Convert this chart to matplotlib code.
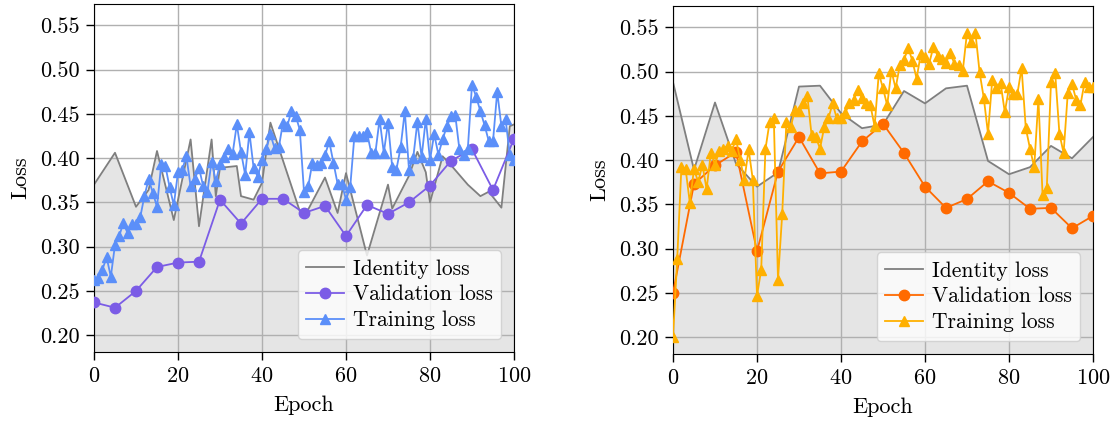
import numpy as np
import matplotlib
matplotlib.use("Agg")
import matplotlib.pyplot as plt

plt.rcParams['font.family'] = ['cmr10', 'DejaVu Serif']
plt.rcParams['mathtext.fontset'] = 'cm'
plt.rcParams['axes.formatter.use_mathtext'] = True
plt.rcParams['font.size'] = 16

# ---- left panel ----
left_id_epoch = [0, 5, 10, 13, 15, 19, 23, 25, 28, 29, 30, 34, 35, 38, 40, 42, 49, 51,
                 55, 58, 60, 65, 70, 71, 75, 77, 79, 80, 83, 85, 89, 92, 94, 97, 99, 100]
left_id_loss = [0.370, 0.406, 0.345, 0.364, 0.408, 0.330, 0.421, 0.323, 0.421, 0.357,
                0.389, 0.391, 0.357, 0.353, 0.372, 0.440, 0.340, 0.342, 0.378, 0.338,
                0.383, 0.290, 0.370, 0.343, 0.380, 0.407, 0.384, 0.350, 0.402, 0.392,
                0.370, 0.357, 0.362, 0.344, 0.436, 0.438]

val_epoch = [0, 5, 10, 15, 20, 25, 30, 35, 40, 45, 50, 55, 60, 65, 70, 75, 80, 85, 90, 95, 100]
left_val = [0.237, 0.231, 0.250, 0.277, 0.282, 0.283, 0.353, 0.326, 0.354, 0.354, 0.338,
            0.346, 0.312, 0.347, 0.337, 0.350, 0.369, 0.397, 0.410, 0.364, 0.422]

left_train = [0.262, 0.265, 0.274, 0.288, 0.266, 0.302, 0.312, 0.327, 0.315, 0.325,
              0.326, 0.333, 0.357, 0.376, 0.361, 0.345, 0.393, 0.391, 0.367, 0.347,
              0.384, 0.387, 0.402, 0.368, 0.376, 0.389, 0.368, 0.362, 0.396, 0.374,
              0.393, 0.401, 0.410, 0.405, 0.438, 0.407, 0.381, 0.429, 0.389, 0.379,
              0.398, 0.410, 0.427, 0.411, 0.412, 0.440, 0.436, 0.453, 0.448, 0.432,
              0.362, 0.368, 0.395, 0.392, 0.395, 0.403, 0.419, 0.395, 0.371, 0.371,
              0.353, 0.367, 0.425, 0.425, 0.425, 0.429, 0.406, 0.406, 0.444, 0.406,
              0.440, 0.390, 0.387, 0.412, 0.453, 0.387, 0.400, 0.441, 0.401, 0.444,
              0.398, 0.427, 0.404, 0.421, 0.436, 0.447, 0.449, 0.410, 0.404, 0.410,
              0.483, 0.469, 0.453, 0.437, 0.419, 0.419, 0.475, 0.436, 0.444, 0.403,
              0.398]

# ---- right panel ----
right_id_epoch = val_epoch
right_id_loss = [0.488, 0.389, 0.465, 0.396, 0.370, 0.386, 0.483, 0.484, 0.453, 0.436,
                 0.440, 0.478, 0.464, 0.481, 0.484, 0.399, 0.384, 0.392, 0.416, 0.402,
                 0.426]

right_val = [0.250, 0.373, 0.394, 0.409, 0.297, 0.387, 0.426, 0.385, 0.387, 0.421, 0.441,
             0.408, 0.370, 0.346, 0.356, 0.376, 0.363, 0.345, 0.346, 0.323, 0.337]

right_train = [0.200, 0.288, 0.392, 0.390, 0.352, 0.390, 0.375, 0.395, 0.367, 0.408,
               0.395, 0.410, 0.413, 0.416, 0.410, 0.424, 0.400, 0.378, 0.412, 0.378,
               0.247, 0.276, 0.412, 0.443, 0.447, 0.265, 0.339, 0.443, 0.437, 0.456,
               0.455, 0.464, 0.472, 0.428, 0.426, 0.413, 0.437, 0.447, 0.464, 0.447,
               0.448, 0.453, 0.464, 0.468, 0.479, 0.470, 0.465, 0.462, 0.438, 0.498,
               0.481, 0.462, 0.501, 0.481, 0.507, 0.513, 0.527, 0.512, 0.492, 0.520,
               0.516, 0.509, 0.528, 0.518, 0.514, 0.510, 0.521, 0.509, 0.507, 0.501,
               0.544, 0.533, 0.544, 0.499, 0.470, 0.430, 0.490, 0.481, 0.487, 0.454,
               0.482, 0.475, 0.475, 0.504, 0.436, 0.413, 0.392, 0.469, 0.360, 0.369,
               0.488, 0.498, 0.430, 0.408, 0.476, 0.486, 0.468, 0.462, 0.488, 0.482,
               0.482]

train_epoch = np.arange(len(left_train))


def draw(ax, id_x, id_y, val_y, train_y, val_color, train_color):
    ymin, ymax = 0.181, 0.574
    ax.fill_between(id_x, id_y, ymin, color='#e5e5e5', lw=0, zorder=1)
    ax.plot(id_x, id_y, color='#7f7f7f', lw=1.3, label='Identity loss', zorder=2)
    ax.plot(val_epoch, val_y, '-o', color=val_color, lw=1.3, ms=7.5,
            label='Validation loss', zorder=3)
    ax.plot(train_epoch, train_y, '-^', color=train_color, lw=1.3, ms=7,
            label='Training loss', zorder=4)
    ax.set_xlim(0, 100)
    ax.set_ylim(ymin, ymax)
    ax.set_xticks([0, 20, 40, 60, 80, 100])
    ax.set_yticks([0.20, 0.25, 0.30, 0.35, 0.40, 0.45, 0.50, 0.55])
    ax.set_yticklabels(['%.2f' % v for v in ax.get_yticks()])
    ax.grid(True, color='#b0b0b0', lw=1.0)
    ax.tick_params(length=5.5, width=1.0, pad=5)
    ax.set_xlabel('Epoch', labelpad=7)
    ax.set_ylabel('Loss', labelpad=7)
    ax.legend(loc='lower right', edgecolor='#cccccc', fontsize=15.5,
              handlelength=1.75, borderpad=0.4, labelspacing=0.3,
              handletextpad=0.4, borderaxespad=0.6)


fig = plt.figure(figsize=(11.17, 4.24), dpi=100)
ax1 = fig.add_axes([94 / 1117, 1 - 352 / 424, 420 / 1117, 348 / 424])
ax2 = fig.add_axes([673 / 1117, 1 - 354 / 424, 420 / 1117, 348 / 424])

draw(ax1, left_id_epoch, left_id_loss, left_val, left_train, '#7b5ce6', '#5b8ff9')
draw(ax2, right_id_epoch, right_id_loss, right_val, right_train, '#ff6a00', '#ffb000')

fig.savefig('out.png', dpi=100)
